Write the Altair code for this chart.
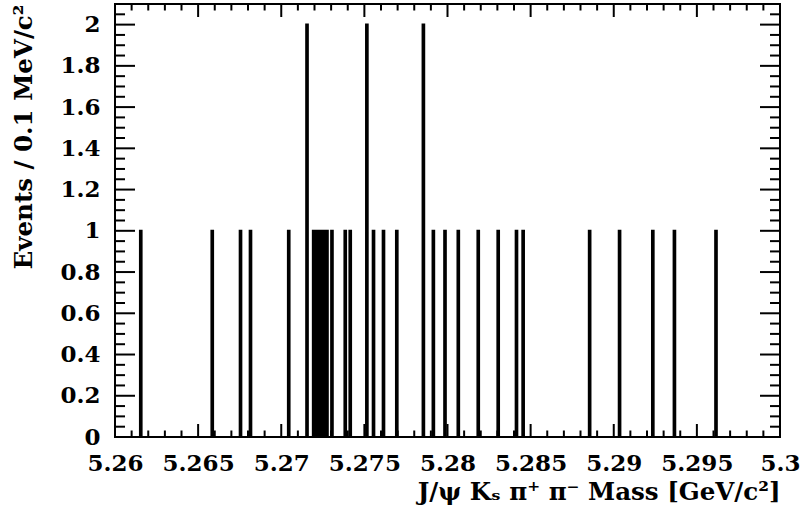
import altair as alt
import numpy as np
import pandas as pd

# Reconstructed candidate masses (GeV/c^2), one entry per event
masses = [
    5.26155, 5.26585, 5.26755, 5.26815, 5.27045,
    5.27155, 5.27155,
    5.27195, 5.27215, 5.27235, 5.27255, 5.27275, 5.27305,
    5.27385, 5.27415,
    5.27515, 5.27515,
    5.27555, 5.27615, 5.27695,
    5.27855, 5.27855,
    5.27915, 5.27985, 5.28065, 5.28185, 5.28305, 5.28415, 5.28455,
    5.28855, 5.29035, 5.29235, 5.29365, 5.29615,
]

# Histogram binning: 0.1 MeV/c^2 bins from 5.26 to 5.30 GeV/c^2
x_lo, x_hi, bin_w = 5.26, 5.30, 0.0001
n_bins = 400
y_max = 2.1

# Axis tick positions
x_major = [round(5.26 + 0.005 * k, 4) for k in range(9)]
x_minor = [round(5.26 + 0.001 * k, 4) for k in range(41) if k % 5]
y_major = [round(0.2 * k, 2) for k in range(11)]
y_minor = [round(0.05 * k, 2) for k in range(43) if k % 4]

edges = x_lo + bin_w * np.arange(n_bins + 1)
counts, _ = np.histogram(masses, bins=edges)
step = pd.DataFrame({"m": edges, "n": np.append(counts, counts[-1])})

W, H = 665, 433
FONT = "DejaVu Serif"
FS = 23
TFS = 24.5

x_scale = alt.Scale(domain=[x_lo, x_hi], nice=False, zero=False)
y_scale = alt.Scale(domain=[0, y_max], nice=False, zero=True)

main = alt.Chart(step).mark_line(
    interpolate="step-after", color="black", strokeWidth=2, clip=True
).encode(
    x=alt.X("m:Q", scale=x_scale, axis=alt.Axis(
        orient="bottom", values=x_major, format=".3~f", ticks=False, domain=False,
        grid=False, labelFont=FONT, labelFontWeight="bold", labelFontSize=FS,
        labelColor="black", labelPadding=15, labelFlush=False, labelOverlap=False,
        title="J/ψ Kₛ π⁺ π⁻  Mass [GeV/c²]", titleFont=FONT, titleFontWeight="bold",
        titleFontSize=TFS, titleColor="black", titleAnchor="end", titlePadding=5)),
    y=alt.Y("n:Q", scale=y_scale, axis=alt.Axis(
        orient="left", values=y_major, format=".1~f", ticks=False, domain=False,
        grid=False, labelFont=FONT, labelFontWeight="bold", labelFontSize=FS,
        labelColor="black", labelPadding=15, labelFlush=False, labelOverlap=False,
        labelOffset=0,
        title="Events / 0.1 MeV/c²", titleFont=FONT, titleFontWeight="bold",
        titleFontSize=TFS, titleColor="black", titleAnchor="end", titlePadding=23)),
)


def x_ticks(values, length):
    df = pd.DataFrame({"v": values})
    base = alt.Chart(df).mark_rule(color="black", strokeWidth=2)
    bottom = base.encode(x=alt.X("v:Q", scale=x_scale, axis=None),
                         y=alt.value(H), y2=alt.value(H - length))
    top = base.encode(x=alt.X("v:Q", scale=x_scale, axis=None),
                      y=alt.value(0), y2=alt.value(length))
    return [bottom, top]


def y_ticks(values, length):
    df = pd.DataFrame({"v": values})
    base = alt.Chart(df).mark_rule(color="black", strokeWidth=2)
    left = base.encode(y=alt.Y("v:Q", scale=y_scale, axis=None),
                       x=alt.value(0), x2=alt.value(length))
    right = base.encode(y=alt.Y("v:Q", scale=y_scale, axis=None),
                        x=alt.value(W), x2=alt.value(W - length))
    return [left, right]


layers = [main]
layers += x_ticks(x_major, 13) + x_ticks(x_minor, 6.5)
layers += y_ticks(y_major, 20) + y_ticks(y_minor, 10)

chart = alt.layer(*layers).resolve_axis(
    x="independent", y="independent"
).properties(
    width=W, height=H,
    autosize=alt.AutoSizeParams(type="none"),
    padding={"left": 115, "top": 4, "right": 24, "bottom": 84},
    background="white",
).configure_view(stroke="black", strokeWidth=2)

chart.save("out.html", embed_options={"renderer": "svg", "actions": False})
